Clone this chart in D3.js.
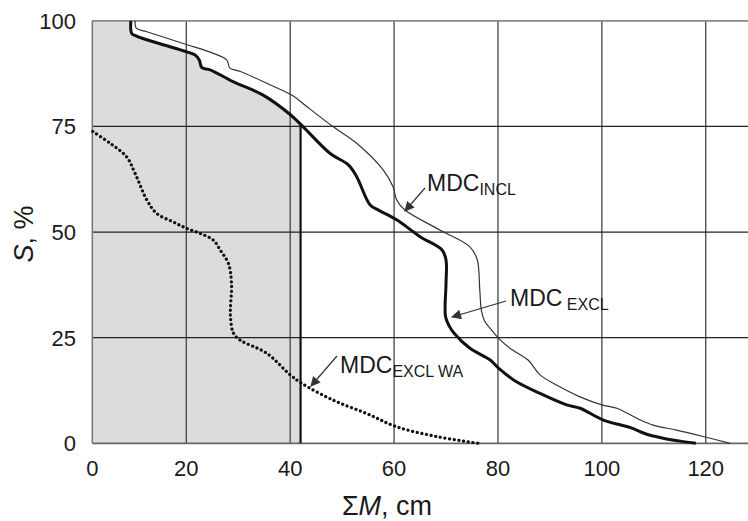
<!DOCTYPE html>
<html lang="en">
    <head>
        <title>MDC curves</title>
        <script src="https://d3js.org/d3.v7.min.js"></script>
        <style>
            body { margin: 0; background: #fff; }
            text { font-family: "Liberation Sans", Arial, sans-serif; fill: #1a1a1a; }
        </style>
    </head>
    <body>
    <div id="mainDiv"></div>

        <script type="text/javascript">
            const width = 748
            const height = 521

            // ticks
            const xTicks = [0, 20, 40, 60, 80, 100, 120]
            const yTicks = [0, 25, 50, 75, 100]

            // MDC_EXCL (thick), [sumM, S]
            const mdcExcl = [
                [8.2, 100], [8.4, 97.0], [9.4, 96.4], [13.7, 94.8], [20, 92.7], [21.7, 91.9],
                [22.5, 90.7], [23.0, 88.9], [24.6, 88.4], [29.0, 85.6], [34.8, 82.4], [40.1, 77.7],
                [42.5, 74.9], [47.7, 68.6], [51.2, 65.9], [52.8, 63.1], [55.4, 56.4], [57.0, 55.2],
                [60.5, 52.9], [65.0, 48.9], [69.2, 45.8], [70.0, 43.4], [70.0, 37.9], [69.9, 30.0],
                [70.6, 27.8], [71.6, 26.0], [74.6, 22.5], [78.5, 19.7], [80.1, 17.8], [83.0, 15.0],
                [88.1, 11.8], [93.2, 9.1], [95.8, 8.3], [100.3, 5.5], [105.5, 3.7], [108.5, 2.2],
                [111.8, 1.2], [115.7, 0.4], [118.1, 0]
            ]

            // MDC_INCL (thin)
            const mdcIncl = [
                [9.1, 100], [9.4, 98.2], [11.6, 97.4], [20, 94.4], [25.2, 92.3], [27.8, 90.7],
                [28.4, 88.8], [30.4, 88.0], [35.5, 85.2], [40.6, 82.2], [43.2, 79.7], [48.3, 74.9],
                [52.8, 71.0], [57.9, 64.7], [59.8, 60.7], [60.5, 57.6], [62.1, 55.2], [68.8, 50.5],
                [74.6, 46.5], [76.0, 43.5], [76.5, 36.3], [76.8, 31.5], [77.4, 29.0], [78.7, 26.9],
                [80.1, 24.9], [82.3, 22.5], [85.8, 19.7], [88.1, 16.2], [91.9, 13.4], [95.8, 11.0],
                [100.0, 9.1], [102.9, 8.3], [107.4, 5.5], [109.9, 4.3], [114.4, 3.1], [119.5, 1.6],
                [124.7, 0]
            ]

            // MDC_EXCL WA (dotted)
            const mdcExclWa = [
                [0.1, 73.8], [3.8, 71.0], [7.3, 67.8], [9.1, 63.9], [11.6, 57.6], [13.7, 54.4],
                [17.2, 52.4], [20, 50.9], [22.6, 49.7], [25.2, 48.1], [26.6, 45.6], [28.1, 42.6],
                [28.7, 37.9], [28.5, 30.0], [29.1, 26.0], [30.4, 24.4], [35.5, 21.3], [40.0, 16.2],
                [42.2, 14.2], [48.3, 10.2], [54.8, 7.0], [60.5, 3.9], [68.2, 1.6], [76.2, 0]
            ]

            const shadeLimit = 42

            const svg = d3.select('#mainDiv').append('svg')
                .attr('width', width)
                .attr('height', height)

            // the picture's x axis is a bit tighter between 0 and 20
            const x = d3.scaleLinear().domain([0, 20, 128]).range([92.3, 186.3, 747.3])
            const y = d3.scaleLinear().domain([0, 100]).range([443.3, 20.8])

            const line = d3.line()
                .x(d => x(d[0]))
                .y(d => y(d[1]))
                .curve(d3.curveCatmullRom.alpha(0.5))

            // shaded area left of the thick curve, cut at shadeLimit
            svg.append('clipPath').attr('id', 'shadeClip')
                .append('rect')
                .attr('x', x(0))
                .attr('y', y(100))
                .attr('width', x(shadeLimit) - x(0))
                .attr('height', y(0) - y(100))

            const shadePts = [[0, 0], [0, 100]].concat(mdcExcl)
            svg.append('path')
                .attr('d', line.curve(d3.curveLinear)(shadePts) + 'Z')
                .attr('fill', '#dcdcdc')
                .attr('clip-path', 'url(#shadeClip)')
            line.curve(d3.curveCatmullRom.alpha(0.5))

            // grid
            const grid = svg.append('g')
            grid.selectAll('.vgrid')
                .data(xTicks.filter(d => d > 0))
                .enter()
                .append('line')
                .attr('x1', d => x(d)).attr('x2', d => x(d))
                .attr('y1', y(0)).attr('y2', y(100))
                .attr('stroke', '#444')
                .attr('stroke-width', 1.3)
            grid.selectAll('.hgrid')
                .data(yTicks.filter(d => d > 0 && d < 100))
                .enter()
                .append('line')
                .attr('x1', x(0)).attr('x2', width)
                .attr('y1', d => y(d)).attr('y2', d => y(d))
                .attr('stroke', '#222')
                .attr('stroke-width', 1.3)
            // frame
            grid.append('line')
                .attr('x1', x(0)).attr('x2', width)
                .attr('y1', y(100)).attr('y2', y(100))
                .attr('stroke', '#888').attr('stroke-width', 1.8)
            grid.append('line')
                .attr('x1', x(0)).attr('x2', width)
                .attr('y1', y(0)).attr('y2', y(0))
                .attr('stroke', '#666').attr('stroke-width', 1.8)
            grid.append('line')
                .attr('x1', x(0)).attr('x2', x(0))
                .attr('y1', y(0)).attr('y2', y(100))
                .attr('stroke', '#777').attr('stroke-width', 1.5)

            // vertical boundary of the shaded area
            let i = mdcExcl.findIndex(d => d[0] >= shadeLimit)
            const a = mdcExcl[i - 1], b = mdcExcl[i]
            const sCut = a[1] + (b[1] - a[1]) * (shadeLimit - a[0]) / (b[0] - a[0])
            svg.append('line')
                .attr('x1', x(shadeLimit)).attr('x2', x(shadeLimit))
                .attr('y1', y(0)).attr('y2', y(sCut))
                .attr('stroke', '#111')
                .attr('stroke-width', 2.2)

            // curves
            svg.append('path')
                .attr('d', line(mdcIncl))
                .attr('fill', 'none')
                .attr('stroke', '#333')
                .attr('stroke-width', 1.2)
            svg.append('path')
                .attr('d', line(mdcExcl))
                .attr('fill', 'none')
                .attr('stroke', '#111')
                .attr('stroke-width', 3)
            svg.append('path')
                .attr('d', line(mdcExclWa))
                .attr('fill', 'none')
                .attr('stroke', '#111')
                .attr('stroke-width', 3.2)
                .attr('stroke-linecap', 'round')
                .attr('stroke-dasharray', '0.1 4.6')

            // tick labels
            svg.selectAll('.xlab')
                .data(xTicks)
                .enter()
                .append('text')
                .attr('x', d => x(d))
                .attr('y', 476)
                .attr('text-anchor', 'middle')
                .style('font-size', '22px')
                .text(d => d)
            svg.selectAll('.ylab')
                .data(yTicks)
                .enter()
                .append('text')
                .attr('x', 76)
                .attr('y', d => y(d) + 8)
                .attr('text-anchor', 'end')
                .style('font-size', '22px')
                .text(d => d)

            // axis titles
            const yTitle = svg.append('text')
                .attr('transform', 'translate(33,234) rotate(-90)')
                .attr('text-anchor', 'middle')
                .style('font-size', '27px')
            yTitle.append('tspan').style('font-style', 'italic').text('S')
            yTitle.append('tspan').text(', %')

            const xTitle = svg.append('text')
                .attr('x', 387)
                .attr('y', 515)
                .attr('text-anchor', 'middle')
                .style('font-size', '27px')
            xTitle.append('tspan').text('Σ')
            xTitle.append('tspan').style('font-style', 'italic').text('M')
            xTitle.append('tspan').text(', cm')

            // curve labels with arrows
            svg.append('defs').append('marker')
                .attr('id', 'arrow')
                .attr('viewBox', '0 0 10 10')
                .attr('refX', 9).attr('refY', 5)
                .attr('markerWidth', 14).attr('markerHeight', 10)
                .attr('markerUnits', 'userSpaceOnUse')
                .attr('orient', 'auto')
                .append('path')
                .attr('d', 'M0,0 L10,5 L0,10 Z')
                .attr('fill', '#333')

            const labels = [
                { main: 'MDC', sub: 'INCL', tx: 427, ty: 191, ax1: 425, ay1: 188, ax2: 405, ay2: 211 },
                { main: 'MDC', sub: ' EXCL', tx: 510, ty: 306, ax1: 506, ay1: 301, ax2: 452, ay2: 317 },
                { main: 'MDC', sub: 'EXCL WA', tx: 340, ty: 373, ax1: 337, ay1: 356, ax2: 311, ay2: 386 }
            ]
            labels.forEach(l => {
                svg.append('line')
                    .attr('x1', l.ax1).attr('y1', l.ay1)
                    .attr('x2', l.ax2).attr('y2', l.ay2)
                    .attr('stroke', '#333')
                    .attr('stroke-width', 1.2)
                    .attr('marker-end', 'url(#arrow)')
                const t = svg.append('text')
                    .attr('x', l.tx).attr('y', l.ty)
                    .style('font-size', '23px')
                    .attr('xml:space', 'preserve')
                t.append('tspan').text(l.main)
                t.append('tspan').attr('dy', 4).style('font-size', '16px').text(l.sub)
            })
        </script>
    </body>
</html>
